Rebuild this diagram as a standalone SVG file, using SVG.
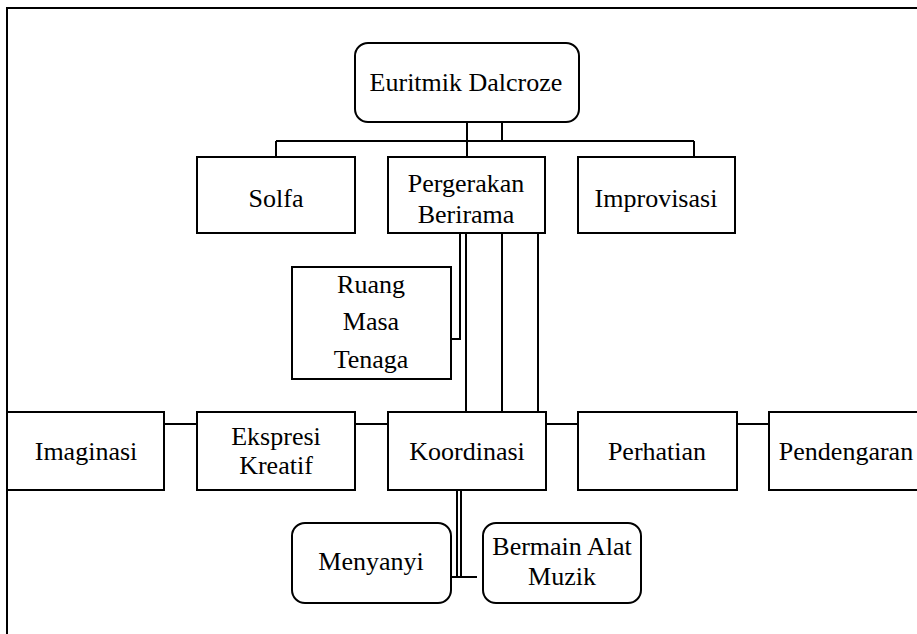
<svg xmlns="http://www.w3.org/2000/svg" width="917" height="634" viewBox="0 0 917 634">
<style>
.box{fill:#fff;stroke:#000;stroke-width:2}
.t{font-family:"Liberation Serif","Times New Roman",serif;font-size:26px;fill:#000;text-anchor:middle}
.c{fill:none;stroke:#000;stroke-width:2}
</style>
<rect width="917" height="634" fill="#fff"/>
<path d="M7 634 V8 H917" fill="none" stroke="#000" stroke-width="2"/>
<g id="connectors">
<path class="c" d="M467 122 V157"/>
<path class="c" d="M502 122 V141"/>
<path class="c" d="M276 141 H694"/>
<path class="c" d="M276 141 V157"/>
<path class="c" d="M694 141 V157"/>
<path class="c" d="M460 233 V339 H451"/>
<path class="c" d="M466 233 V412" stroke-width="3"/>
<path class="c" d="M502 233 V412"/>
<path class="c" d="M538 233 V412"/>
<path class="c" d="M164 424 H197"/>
<path class="c" d="M355 424 H388"/>
<path class="c" d="M546 424 H578"/>
<path class="c" d="M737 424 H769"/>
<path class="c" d="M457 490 V577"/>
<path class="c" d="M461 490 V577"/>
<path class="c" d="M451 577 H477"/>
</g>
<g id="euritmik"><rect class="box" x="355" y="43" width="224" height="79" rx="13"/><text class="t" x="466" y="91">Euritmik Dalcroze</text></g>
<g id="solfa"><rect class="box" x="197" y="157" width="158" height="76"/><text class="t" x="276" y="207">Solfa</text></g>
<g id="pergerakan"><rect class="box" x="388" y="157" width="157" height="76"/><text class="t" x="466" y="192">Pergerakan</text><text class="t" x="466" y="223">Berirama</text></g>
<g id="improvisasi"><rect class="box" x="578" y="157" width="157" height="76"/><text class="t" x="656" y="207">Improvisasi</text></g>
<g id="ruang"><rect class="box" x="292" y="267" width="159" height="112"/><text class="t" x="371" y="293">Ruang</text><text class="t" x="371" y="330">Masa</text><text class="t" x="371" y="368">Tenaga</text></g>
<g id="imaginasi"><rect class="box" x="7" y="412" width="157" height="78"/><text class="t" x="86" y="460">Imaginasi</text></g>
<g id="ekspresi"><rect class="box" x="197" y="412" width="158" height="78"/><text class="t" x="276" y="445">Ekspresi</text><text class="t" x="276" y="474">Kreatif</text></g>
<g id="koordinasi"><rect class="box" x="388" y="412" width="158" height="78"/><text class="t" x="467" y="460">Koordinasi</text></g>
<g id="perhatian"><rect class="box" x="578" y="412" width="159" height="78"/><text class="t" x="657" y="460">Perhatian</text></g>
<g id="pendengaran"><rect class="box" x="769" y="412" width="160" height="78"/><text class="t" x="846" y="460">Pendengaran</text></g>
<g id="menyanyi"><rect class="box" x="292" y="523" width="159" height="80" rx="13"/><text class="t" x="371" y="570">Menyanyi</text></g>
<g id="bermain"><rect class="box" x="483" y="523" width="158" height="80" rx="13"/><text class="t" x="562" y="555">Bermain Alat</text><text class="t" x="562" y="585">Muzik</text></g>
</svg>
